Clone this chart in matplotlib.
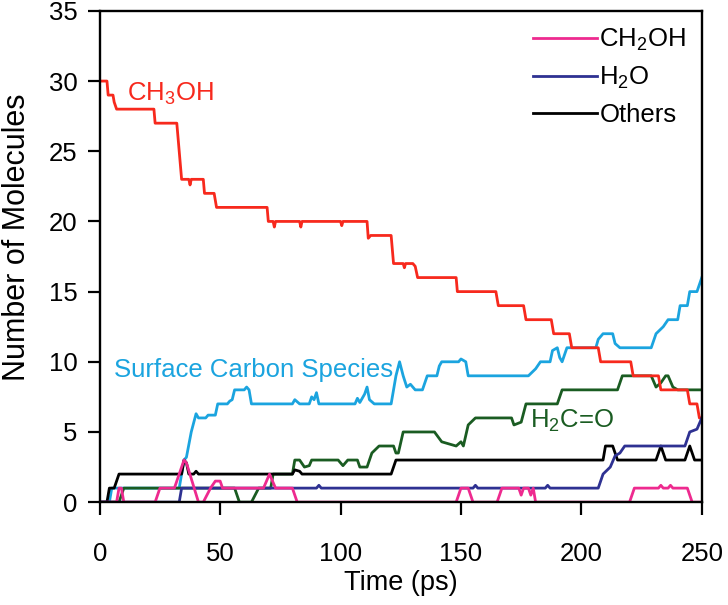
import numpy as np
import matplotlib
matplotlib.use('Agg')
import matplotlib.pyplot as plt

plt.rcParams['font.family'] = ['Liberation Sans', 'DejaVu Sans']
plt.rcParams['mathtext.fontset'] = 'custom'
plt.rcParams['mathtext.rm'] = 'Liberation Sans'
plt.rcParams['mathtext.it'] = 'Liberation Sans'
plt.rcParams['mathtext.default'] = 'regular'

# ---- data (time in ps, count of molecules) ----
ch3oh_t = [0, 3, 3.5, 5.5, 6, 7, 22.5, 23, 32, 33, 34, 37, 37.5, 38, 43, 43.5, 47.5, 48.5,
           69.5, 70, 72, 72.5, 73, 83, 83.5, 84, 100, 100.5, 101, 111, 111.5, 112.5,
           121, 122, 126, 126.5, 127, 130, 131, 132, 148, 148.5, 164.5, 165.5, 176, 177,
           187.5, 188.5, 195, 196, 207, 208, 220.5, 221.5, 232, 233, 244, 245, 248, 249, 250]
ch3oh_v = [30, 30, 29, 29, 28.5, 28, 28, 27, 27, 25, 23, 23, 22.6, 23, 23, 22, 22, 21,
           21, 20, 20, 19.6, 20, 20, 19.6, 20, 20, 19.7, 20, 20, 18.8, 19,
           19, 17, 17, 16.7, 17, 17, 16.8, 16, 16, 15, 15, 14, 14, 13,
           13, 12, 12, 11, 11, 10, 10, 9, 9, 8, 8, 7, 7, 6, 6]

surf_t = [0, 4, 5, 33, 34, 35, 36, 38, 40, 41, 44, 45, 48, 49, 53, 54, 55, 56, 60, 61, 62, 63,
          80, 81, 83, 87, 88, 89, 90, 91, 106, 107, 108, 110, 111, 112, 114, 121, 123, 124.5,
          126, 127.5, 129, 131, 134, 136, 140, 141, 142, 149, 150, 152, 153, 178, 181, 183,
          187, 188, 190, 191, 192, 194, 206, 207, 209, 213, 214, 216, 229, 231, 234, 236,
          240, 241, 244, 245, 248, 249, 250]
surf_v = [0, 0, 1, 1, 2, 3, 3.2, 5, 6.3, 6, 6, 6.2, 6.2, 7, 7, 7.2, 7.3, 8, 8, 8.2, 8, 7,
          7, 7.3, 7, 7, 7.5, 7.3, 7.8, 7, 7, 7.4, 7.1, 7.7, 8.2, 7.3, 7, 7, 9, 10,
          9, 8.2, 8.4, 8, 8, 9, 9, 9.7, 10, 10, 10.2, 10, 9, 9, 9.5, 10,
          10, 10.8, 11, 10.3, 10, 11, 11, 11.6, 12, 12, 11.3, 11, 11, 12, 12.5, 13,
          13, 14, 14, 15, 15, 15.5, 16]

h2co_t = [0, 8, 10, 56, 58, 63, 66, 71, 72, 80, 81, 83, 85, 87, 88, 99, 101, 103, 107, 108,
          111, 113, 116, 122, 123, 124, 126, 139, 142, 148, 150, 151, 153, 156, 171, 172,
          175, 177, 190, 192, 215, 217, 229, 231, 233, 235, 236, 238, 240, 250]
h2co_v = [0, 0, 1, 1, 0, 0, 1, 1, 2, 2, 3, 3, 2.5, 2.6, 3, 3, 2.6, 3, 3, 2.5,
          2.5, 3.5, 4, 4, 3.5, 3.5, 5, 5, 4.3, 4, 4.3, 4, 5.5, 6, 6, 5.5,
          5.7, 7, 7, 8, 8, 9, 9, 8.2, 8.5, 9, 9, 8.2, 8, 8]

ch2oh_t = [0, 7, 8, 9, 10, 23, 25, 31, 35, 36, 41, 43, 46, 48, 50, 51, 68, 70.5, 73, 80, 82,
           148, 150, 153, 155, 165, 167, 174, 175, 176, 178, 179, 180, 181, 220, 222, 232,
           233, 234, 236, 237, 238, 244, 246, 250]
ch2oh_v = [0, 0, 1, 1, 0, 0, 1, 1, 3, 2.8, 0, 0, 1, 1.5, 1.5, 1, 1, 2, 1, 1, 0,
           0, 1, 1, 0, 0, 1, 1, 0.5, 1, 1, 0.5, 1, 0, 0, 1, 1,
           1.2, 1, 1, 1.2, 1, 1, 0, 0]

h2o_t = [0, 33, 34, 90, 91, 92, 155, 156, 157, 185, 186, 187, 207, 209, 212, 214, 216, 218,
         243, 245, 248, 250]
h2o_v = [0, 0, 1, 1, 1.2, 1, 1, 1.2, 1, 1, 1.2, 1, 1, 2, 2.5, 3.3, 3.5, 4,
         4, 5, 5.2, 6]

others_t = [0, 3, 4, 6, 8, 34, 35, 36, 37, 39, 40, 41, 80, 81, 83, 84, 121, 123, 209, 210,
            213, 215, 231, 233, 235, 243, 245, 247, 250]
others_v = [0, 0, 1, 1, 2, 2, 3, 2.8, 2, 2, 2.2, 2, 2, 2.3, 2.2, 2, 2, 3, 3, 4,
            4, 3, 3, 4, 3, 3, 4, 3, 3]

red = '#f7291d'
lblue = '#1ba4df'
dgreen = '#1a5c22'
magenta = '#ee2a8f'
blue = '#2e3192'

fig = plt.figure(figsize=(7.28, 6.05), dpi=100)
ax = fig.add_axes([0.137, 0.17, 0.827, 0.812])

lw = 2.0
ax.plot(surf_t, surf_v, color=lblue, lw=lw)
ax.plot(h2co_t, h2co_v, color=dgreen, lw=lw)
ax.plot(ch3oh_t, ch3oh_v, color=red, lw=lw)
l_oth, = ax.plot(others_t, others_v, color='black', lw=lw, label='Others')
l_h2o, = ax.plot(h2o_t, h2o_v, color=blue, lw=lw, label='H$_2$O')
l_ch2, = ax.plot(ch2oh_t, ch2oh_v, color=magenta, lw=lw, label='CH$_2$OH')

fs = 18.5
ax.text(11.5, 28.6, 'CH$_3$OH', color=red, fontsize=fs)
ax.text(6, 8.9, 'Surface Carbon Species', color=lblue, fontsize=fs)
ax.text(178.5, 5.3, 'H$_2$C=O', color=dgreen, fontsize=fs)

ax.legend(handles=[l_ch2, l_h2o, l_oth], loc='upper left', bbox_to_anchor=(0.719, 0.968),
          frameon=False, fontsize=fs, handlelength=2.5, handletextpad=0.1,
          labelspacing=0.46, borderpad=0, borderaxespad=0)

ax.set_xlim(0, 250)
ax.set_ylim(0, 35)
ax.set_xticks([0, 50, 100, 150, 200, 250])
ax.set_yticks([0, 5, 10, 15, 20, 25, 30, 35])
ax.tick_params(axis='both', direction='out', length=9, width=1.6, labelsize=fs)
ax.tick_params(axis='x', pad=20)
ax.tick_params(axis='y', pad=7)
for s in ax.spines.values():
    s.set_linewidth(1.7)
ax.set_xlabel('Time (ps)', fontsize=19.5)
ax.set_ylabel('Number of Molecules', fontsize=22)
ax.xaxis.set_label_coords(0.5, -0.138)
ax.yaxis.set_label_coords(-0.113, 0.54)

fig.savefig('out.png', dpi=100)
